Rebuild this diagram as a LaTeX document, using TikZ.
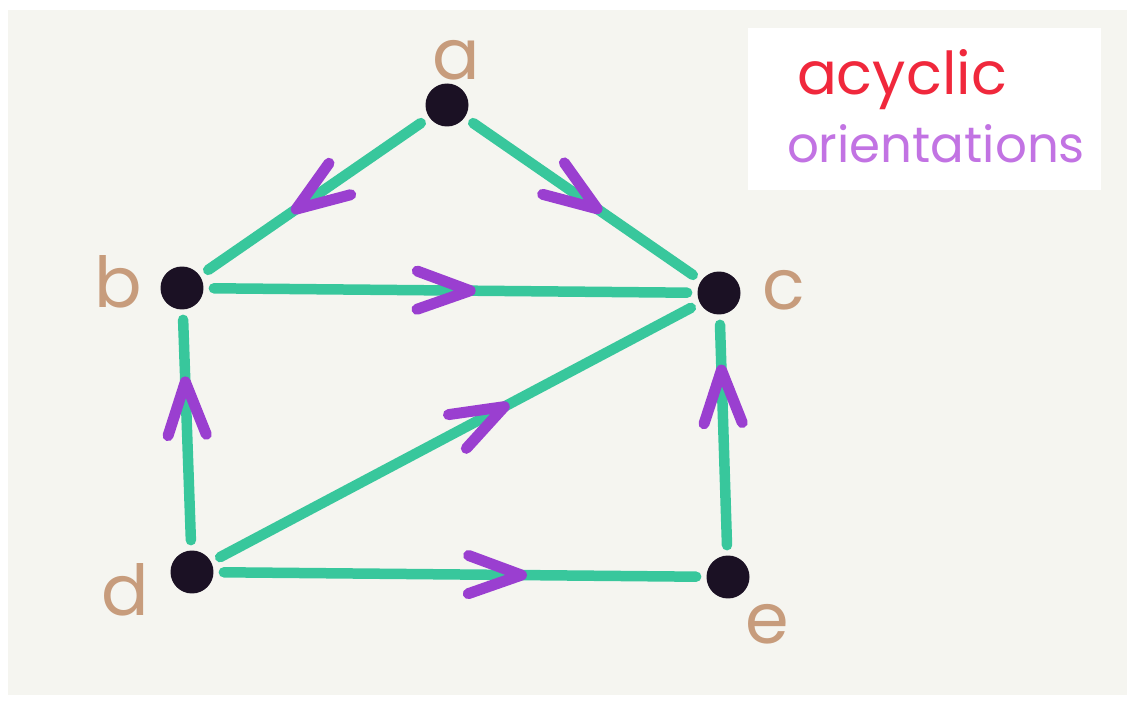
\documentclass[tikz,border=0pt]{standalone}
\usepackage{fontspec}
\setmainfont{Poppins}
\usetikzlibrary{decorations.markings}
\definecolor{paper}{HTML}{F5F5F0}
\definecolor{edgegreen}{HTML}{38C79C}
\definecolor{chev}{HTML}{9A3FD0}
\definecolor{dot}{HTML}{1B1124}
\definecolor{lab}{HTML}{C79C7C}
\definecolor{titred}{HTML}{F0283C}
\definecolor{titpurple}{HTML}{C273E3}
\tikzset{
  vertex/.style={circle, fill=dot, minimum size=0.86cm, inner sep=0pt},
  vlabel/.style={text=lab, font=\fontsize{40}{40}\selectfont, inner sep=0pt},
  edge/.style={draw=edgegreen, line width=0.21cm, line cap=round, shorten >=0.2cm, shorten <=0.2cm},
  chevron at/.style={postaction={decorate, decoration={markings,
      mark=at position #1 with {\draw[chev, line width=0.22cm, line cap=round, line join=round]
        (-1.25cm,0.45cm) -- (0,0) -- (-1.25cm,-0.45cm);}}}},
}
\begin{document}
\begin{tikzpicture}[x=0.02cm, y=-0.02cm]
  \useasboundingbox (0,0) rectangle (1133,702);
  \fill[white] (0,0) rectangle (1133,702);
  \fill[paper] (8,10) rectangle (1127,695);
  \fill[white] (748,28) rectangle (1101,190);

  \node[vertex] (a) at (447,105) {};
  \node[vertex] (b) at (182,288) {};
  \node[vertex] (c) at (719,293) {};
  \node[vertex] (d) at (192,572) {};
  \node[vertex] (e) at (728,577) {};

  \node[vlabel] (la) at (456,60) {a};
  \node[vlabel] (lb) at (118,282) {b};
  \node[vlabel] (lc) at (784,290) {c};
  \node[vlabel] (ld) at (125,590) {d};
  \node[vlabel] (le) at (767,624) {e};

  \draw[edge, chevron at=0.58] (a) -- (b);
  \draw[edge, chevron at=0.56] (a) -- (c);
  \draw[edge, chevron at=0.54] (b) -- (c);
  \draw[edge, chevron at=0.70] (d) -- (b);
  \draw[edge, chevron at=0.60] (d) -- (c);
  \draw[edge, chevron at=0.625] (d) -- (e);
  \draw[edge, chevron at=0.77] (e) -- (c);

  \node[anchor=base, text=titred, inner sep=0pt] (t1) at (902,95) {\resizebox{4.2cm}{!}{acyclic}};
  \node[anchor=base, text=titpurple, inner sep=0pt] (t2) at (936,163) {\resizebox{5.96cm}{!}{orientations}};
\end{tikzpicture}
\end{document}
